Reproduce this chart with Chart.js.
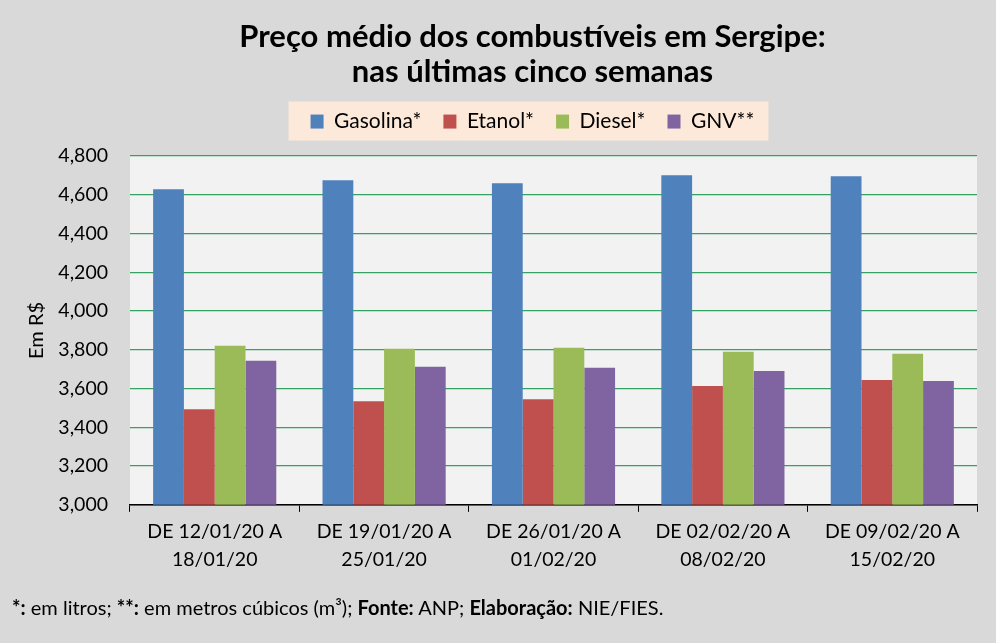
<!DOCTYPE html>
<html>
<head>
<meta charset="utf-8">
<script src="https://cdn.jsdelivr.net/npm/chart.js@4"></script>
<style>
  html, body { margin: 0; padding: 0; background: #d9d9d9; }
  #wrap { position: relative; width: 996px; height: 643px; }
  canvas { display: block; }
  #note { position: absolute; left: 12px; top: 595px; font-family: Lato, "Open Sans", sans-serif; font-size: 20px; color: #000; white-space: nowrap; }
</style>
</head>
<body>
<div id="wrap">
  <canvas id="c" width="996" height="643"></canvas>
  <div id="note"><b>*:</b> em litros; <b>**:</b> em metros cúbicos (m³); <b>Fonte:</b> ANP; <b>Elaboração:</b> NIE/FIES.</div>
</div>
<script>
const categories = [
  ['DE 12/01/20 A', '18/01/20'],
  ['DE 19/01/20 A', '25/01/20'],
  ['DE 26/01/20 A', '01/02/20'],
  ['DE 02/02/20 A', '08/02/20'],
  ['DE 09/02/20 A', '15/02/20']
];
const gasolina = [4.628, 4.675, 4.659, 4.701, 4.696];
const etanol   = [3.493, 3.535, 3.545, 3.613, 3.644];
const diesel   = [3.821, 3.806, 3.811, 3.790, 3.780];
const gnv      = [3.743, 3.712, 3.707, 3.691, 3.639];
const seriesNames = ['Gasolina*', 'Etanol*', 'Diesel*', 'GNV**'];
const seriesColors = ['#4f81bd', '#c0504d', '#9bbb59', '#8064a2'];
const yTicks = ['3,000', '3,200', '3,400', '3,600', '3,800', '4,000', '4,200', '4,400', '4,600', '4,800'];

const FONT = 'Lato, "Open Sans", sans-serif';
const TITLE_SIZE = 31, TITLE_LH = 1.13, TITLE_PAD_TOP = 19;
const PLOT_TOP = 156;
const HEADER_SHIFT = 88;

const bgPlugin = {
  id: 'bgPlugin',
  afterInit(chart) {
    const lg = chart.legend;
    if (lg && !lg._patched) {
      const orig = lg.fit.bind(lg);
      lg.fit = function () {
        orig();
        const titleH = TITLE_PAD_TOP + 2 * TITLE_SIZE * TITLE_LH;
        this.height = PLOT_TOP - titleH;
      };
      lg._patched = true;
    }
  },
  afterLayout(chart) {
    if (chart.titleBlock) chart.titleBlock.left += HEADER_SHIFT;
    if (chart.legend) chart.legend.left += HEADER_SHIFT;
  },
  beforeDraw(chart) {
    const { ctx, chartArea } = chart;
    ctx.save();
    ctx.fillStyle = '#d9d9d9';
    ctx.fillRect(0, 0, chart.width, chart.height);
    ctx.fillStyle = '#f2f2f2';
    ctx.fillRect(chartArea.left, chartArea.top, chartArea.right - chartArea.left, chartArea.bottom - chartArea.top);
    const lg = chart.legend;
    if (lg && lg.legendHitBoxes && lg.legendHitBoxes.length) {
      const boxes = lg.legendHitBoxes;
      const x0 = boxes[0].left - 22;
      const last = boxes[boxes.length - 1];
      const x1 = last.left + last.width + 14;
      const cy = boxes[0].top + boxes[0].height / 2;
      ctx.fillStyle = '#fde9d9';
      ctx.fillRect(x0, cy - 20, x1 - x0, 39);
    }
    ctx.restore();
  }
};

new Chart(document.getElementById('c'), {
  type: 'bar',
  data: {
    labels: categories,
    datasets: [
      { label: seriesNames[0], data: gasolina, backgroundColor: seriesColors[0] },
      { label: seriesNames[1], data: etanol, backgroundColor: seriesColors[1] },
      { label: seriesNames[2], data: diesel, backgroundColor: seriesColors[2] },
      { label: seriesNames[3], data: gnv, backgroundColor: seriesColors[3] }
    ]
  },
  options: {
    responsive: false,
    animation: false,
    devicePixelRatio: 1,
    layout: { padding: { left: 0, right: 19, top: 0, bottom: 63 } },
    datasets: { bar: { categoryPercentage: 0.727, barPercentage: 1.0 } },
    plugins: {
      title: {
        display: true,
        text: ['Preço médio dos combustíveis em Sergipe:', 'nas últimas cinco semanas'],
        color: '#000',
        font: { family: FONT, size: TITLE_SIZE, weight: 'bold', lineHeight: TITLE_LH },
        padding: { top: TITLE_PAD_TOP, bottom: 0 }
      },
      legend: {
        display: true,
        labels: {
          color: '#000',
          font: { family: FONT, size: 21 },
          boxWidth: 13,
          boxHeight: 14,
          padding: 22
        }
      },
      tooltip: { enabled: false }
    },
    scales: {
      x: {
        grid: { display: true, drawOnChartArea: false, drawTicks: true, tickLength: 7, color: '#000', offset: true },
        border: { display: true, color: '#000', width: 1.5 },
        ticks: { color: '#000', font: { family: FONT, size: 19.5, lineHeight: 1.44 }, padding: 6, maxRotation: 0, autoSkip: false }
      },
      y: {
        min: 3.0,
        max: 4.8,
        afterFit(scale) { scale.width = 130; },
        grid: { color: '#35a264', lineWidth: 1.2, drawTicks: false },
        border: { display: false },
        ticks: {
          stepSize: 0.2,
          color: '#000',
          padding: 22,
          font: { family: FONT, size: 19.5 },
          callback: (v, i) => yTicks[i]
        },
        title: { display: true, text: 'Em R$', color: '#000', font: { family: FONT, size: 20 }, padding: { top: 25, bottom: 0 } }
      }
    }
  },
  plugins: [bgPlugin]
});
</script>
</body>
</html>
